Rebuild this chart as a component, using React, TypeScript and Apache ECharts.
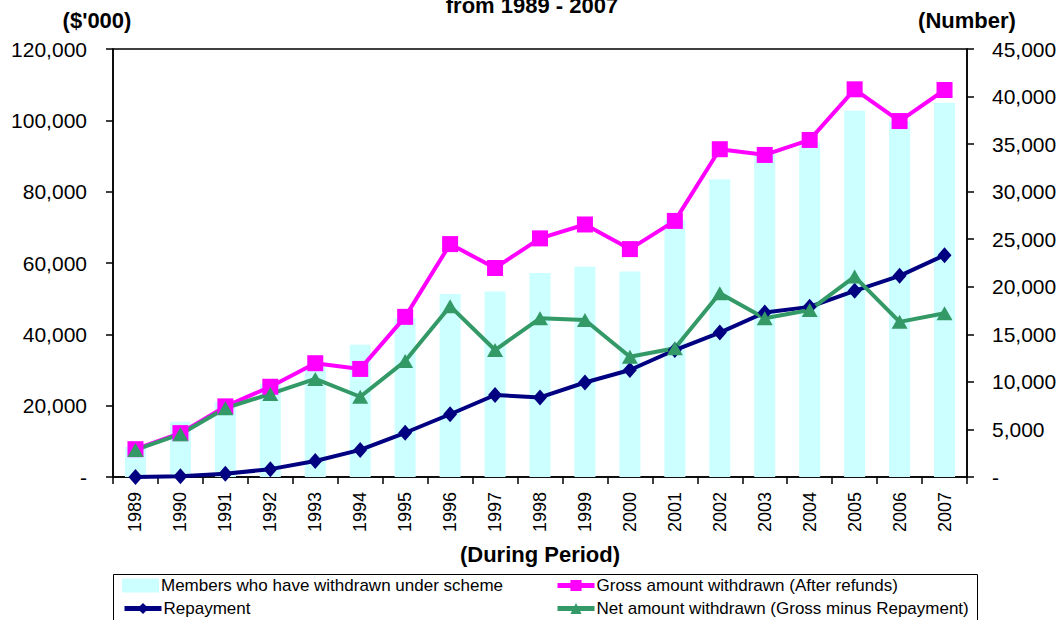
import React, { useEffect, useRef } from "react";
import * as echarts from "echarts";

const years = ["1989","1990","1991","1992","1993","1994","1995","1996","1997","1998","1999","2000","2001","2002","2003","2004","2005","2006","2007"];
const members = [3150, 5800, 7900, 9800, 11600, 13900, 16700, 19250, 19500, 21450, 22100, 21600, 27000, 31300, 34000, 35200, 38500, 37400, 39350];
const gross = [7800, 12300, 19800, 25300, 31900, 30300, 44900, 65300, 58600, 66900, 70800, 63900, 71800, 91900, 90300, 94500, 108700, 99800, 108500];
const repayment = [0, 200, 900, 2200, 4500, 7600, 12400, 17600, 23000, 22300, 26500, 30000, 35600, 40500, 46100, 47700, 52200, 56400, 62200];
const net = [7600, 12000, 19300, 23300, 27500, 22500, 32500, 47900, 35600, 44500, 44000, 33700, 36100, 51500, 44500, 46800, 56200, 43500, 45900];

const NAME_MEMBERS = "Members who have withdrawn under scheme";
const NAME_GROSS = "Gross amount withdrawn (After refunds)";
const NAME_REPAY = "Repayment";
const NAME_NET = "Net amount withdrawn (Gross minus Repayment)";

const FONT = 'Arial, "Liberation Sans", sans-serif';

const fmt = (v: number) => (v === 0 ? "-" : v.toLocaleString("en-US"));

const legendItem = (name: string, left: number, top: number, icon?: string) => ({
  orient: "horizontal",
  left,
  top,
  itemWidth: 37,
  itemHeight: 14,
  padding: 0,
  lineStyle: { width: 5 },
  textStyle: { fontSize: 17, fontFamily: FONT, color: "#000", padding: [0, 0, 0, -3] },
  data: [icon ? { name, icon, itemStyle: { borderWidth: 0 } } : { name }],
});

export default function App() {
  const ref = useRef<HTMLDivElement>(null);
  useEffect(() => {
    if (!ref.current) return;
    const chart = echarts.init(ref.current, undefined, { renderer: "svg" });
    const axisLine = { show: true, lineStyle: { color: "#000", width: 1.5 } };
    const axisTick = { show: true, inside: false, length: 7, lineStyle: { color: "#000", width: 1.5 } };
    chart.setOption({
      animation: false,
      backgroundColor: "#fff",
      textStyle: { fontFamily: FONT, color: "#000" },
      grid: { left: 113, right: 93, top: 49, bottom: 143, show: true, borderColor: "#000", borderWidth: 1.5, backgroundColor: "transparent" },
      graphic: [
        {
          type: "text",
          x: 532,
          y: 16,
          style: { text: "from 1989 - 2007", font: `bold 22px ${FONT}`, fill: "#000", align: "center", verticalAlign: "bottom" },
        },
        {
          type: "text",
          x: 97,
          y: 20,
          style: { text: "($'000)", font: `bold 22px ${FONT}`, fill: "#000", align: "center", verticalAlign: "middle" },
        },
        {
          type: "text",
          x: 967,
          y: 20,
          style: { text: "(Number)", font: `bold 22px ${FONT}`, fill: "#000", align: "center", verticalAlign: "middle" },
        },
        {
          type: "rect",
          shape: { x: 113.5, y: 574.5, width: 864, height: 60 },
          style: { fill: "none", stroke: "#000", lineWidth: 1 },
          z: 0,
        },
      ],
      legend: [
        legendItem(NAME_MEMBERS, 122, 577, "rect"),
        legendItem(NAME_REPAY, 122, 600),
        legendItem(NAME_GROSS, 555, 577),
        legendItem(NAME_NET, 555, 600),
      ],
      xAxis: {
        type: "category",
        data: years,
        boundaryGap: true,
        axisLine,
        axisTick: { ...axisTick, alignWithLabel: false },
        axisLabel: { rotate: 90, fontSize: 18, margin: 15, color: "#000", fontFamily: FONT, interval: 0 },
        name: "(During Period)",
        nameLocation: "middle",
        nameGap: 66,
        nameTextStyle: { fontSize: 22, fontWeight: "bold", color: "#000", fontFamily: FONT },
        splitLine: { show: false },
      },
      yAxis: [
        {
          type: "value",
          min: 0,
          max: 120000,
          interval: 20000,
          position: "left",
          axisLine,
          axisTick,
          splitLine: { show: false },
          axisLabel: { formatter: fmt, fontSize: 21, margin: 26, color: "#000", fontFamily: FONT },
        },
        {
          type: "value",
          min: 0,
          max: 45000,
          interval: 5000,
          position: "right",
          axisLine,
          axisTick,
          splitLine: { show: false },
          axisLabel: { formatter: fmt, fontSize: 21, margin: 25, color: "#000", fontFamily: FONT },
        },
      ],
      series: [
        {
          name: NAME_MEMBERS,
          type: "bar",
          yAxisIndex: 1,
          data: members,
          barWidth: 21,
          itemStyle: { color: "#CCFFFF" },
        },
        {
          name: NAME_GROSS,
          type: "line",
          data: gross,
          symbol: "rect",
          symbolSize: 16,
          lineStyle: { color: "#FF00FF", width: 4 },
          itemStyle: { color: "#FF00FF" },
        },
        {
          name: NAME_REPAY,
          type: "line",
          data: repayment,
          symbol: "diamond",
          symbolSize: [14, 16],
          lineStyle: { color: "#000080", width: 4 },
          itemStyle: { color: "#000080" },
        },
        {
          name: NAME_NET,
          type: "line",
          data: net,
          symbol: "triangle",
          symbolSize: [16, 14],
          lineStyle: { color: "#339966", width: 4 },
          itemStyle: { color: "#339966" },
        },
      ],
    });
    return () => chart.dispose();
  }, []);
  return (
    <div
      ref={ref}
      style={{ position: "fixed", left: 0, top: 0, width: 1060, height: 620, background: "#fff" }}
    />
  );
}
